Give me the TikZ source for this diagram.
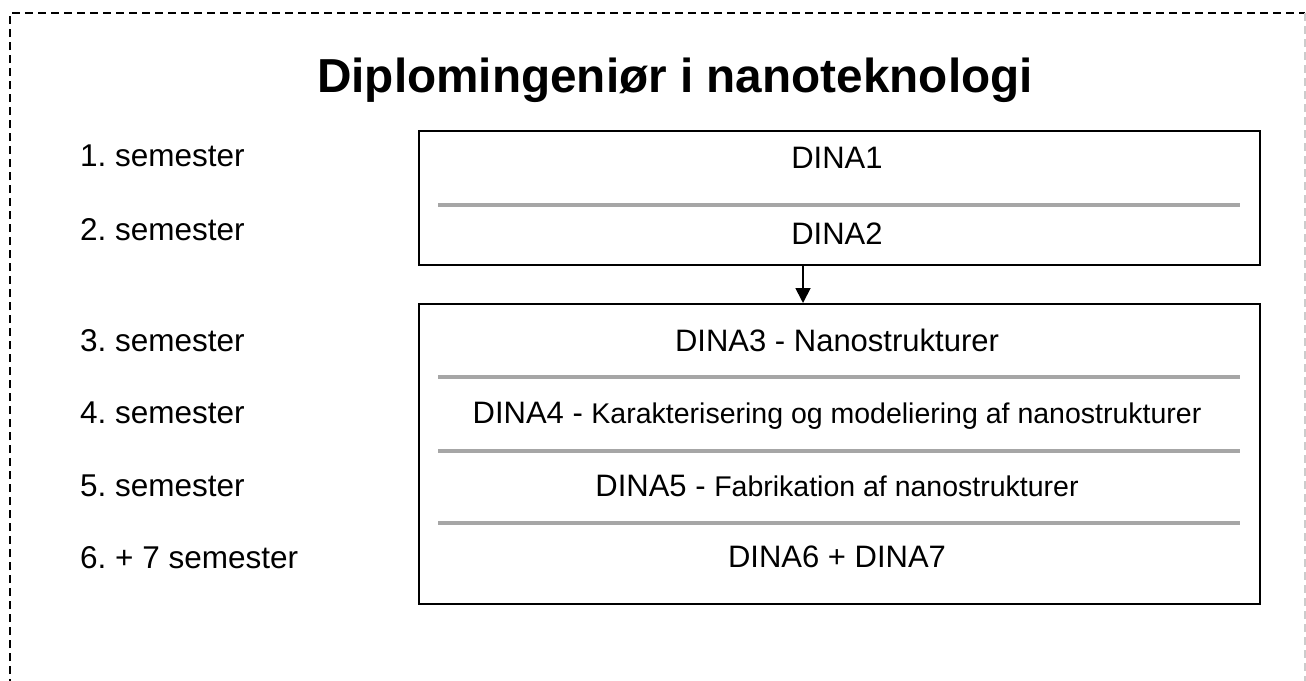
\documentclass[tikz,border=0pt]{standalone}
\usepackage{fontspec}
\setmainfont{Liberation Sans}
\usetikzlibrary{arrows.meta}
\frenchspacing
\begin{document}
\begin{tikzpicture}[x=1pt,y=-1pt,
  lbl/.style={anchor=base west,inner sep=0pt,font=\fontsize{31.5}{38}\selectfont},
  dina/.style={anchor=base,inner sep=0pt,font=\fontsize{31}{38}\selectfont},
  small/.style={font=\fontsize{28.5}{34}\selectfont},
  boxnode/.style={draw=black,line width=2pt,anchor=north west,inner sep=0pt,minimum width=841pt},
  sepline/.style={draw=gray!70,line width=3.5pt},
  frame/.style={line width=1.3pt,dash pattern=on 8pt off 5pt},
  conn/.style={line width=1.8pt,-{Triangle[length=15pt,width=15pt]}}
]
\useasboundingbox (0,0) rectangle (1306,680);
% dashed frame
\draw[frame,black] (10,700) -- (10,13) -- (1305,13);
\draw[frame,gray!40] (1305,13) -- (1305,700);
% title
\node[anchor=base,inner sep=0pt,font=\fontsize{47.7}{56}\selectfont\bfseries] (title) at (675,92) {Diplomingeniør i nanoteknologi};
% semester labels
\node[lbl] (s1) at (80,166) {1. semester};
\node[lbl] (s2) at (80,240) {2. semester};
\node[lbl] (s3) at (80,351) {3. semester};
\node[lbl] (s4) at (80,423) {4. semester};
\node[lbl] (s5) at (80,496) {5. semester};
\node[lbl] (s6) at (80,568) {6. + 7 semester};
% boxes
\node[boxnode,minimum height=134pt] (b1) at (418,130) {};
\node[boxnode,minimum height=300pt] (b2) at (418,303) {};
% separators
\draw[sepline] (438,205) -- (1240,205);
\draw[sepline] (438,377) -- (1240,377);
\draw[sepline] (438,451) -- (1240,451);
\draw[sepline] (438,523) -- (1240,523);
% box texts
\node[dina] (d1) at (837,168) {DINA1};
\node[dina] (d2) at (837,244) {DINA2};
\node[dina] (d3) at (837,351) {DINA3 - Nanostrukturer};
\node[dina] (d4) at (837,423) {DINA4 - {\fontsize{28.5}{34}\selectfont Karakterisering og modeliering af nanostrukturer}};
\node[dina] (d5) at (837,496) {DINA5 - {\fontsize{28.5}{34}\selectfont Fabrikation af nanostrukturer}};
\node[dina] (d6) at (837,567) {DINA6 + DINA7};
% connector
\coordinate (ax) at (803,0);
\draw[conn] (ax |- b1.south) -- (ax |- b2.north);
\end{tikzpicture}
\end{document}
